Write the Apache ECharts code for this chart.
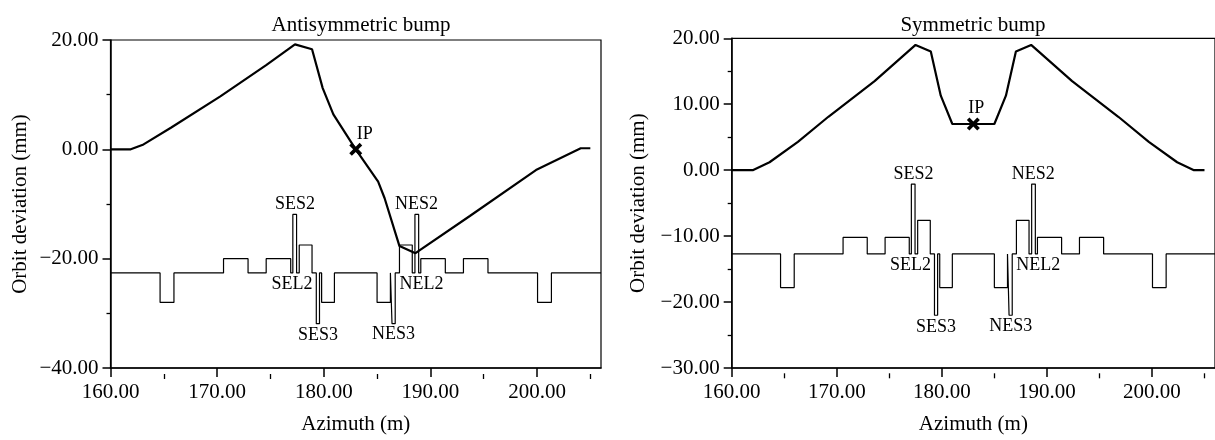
<!DOCTYPE html>
<html>
<head>
<meta charset="utf-8">
<script src="https://cdn.jsdelivr.net/npm/echarts@6/dist/echarts.min.js"></script>
<style>
  html, body { margin: 0; padding: 0; background: #fff; }
  #chart { width: 1215px; height: 440px; }
</style>
</head>
<body>
<div id="chart"></div>
<script>
// ---- data -------------------------------------------------------------
const xTicks = [160, 170, 180, 190, 200];
const xMinorTicks = [165, 175, 185, 195, 205];

// Closed orbit through the antisymmetric bump, [azimuth m, deviation mm]
const antiOrbit = [
  [160, 0], [161.9, 0], [163.1, 0.9], [165.7, 4.0], [170.3, 9.7], [174.6, 15.4],
  [177.3, 19.2], [178.9, 18.3], [179.9, 11.2], [180.9, 6.4], [183.0, 0],
  [185.1, -5.9], [185.7, -8.9], [187.1, -17.7], [188.6, -19.0], [193.7, -12.2],
  [199.9, -3.8], [204.1, 0.2], [205, 0.2]
];

// Closed orbit through the symmetric bump
const symOrbit = [
  [160, 0], [162.0, 0], [163.6, 1.2], [166.3, 4.3], [169.2, 8.1], [173.6, 13.5],
  [177.5, 19.0], [178.95, 18.0], [179.9, 11.3], [181.0, 7.0], [183.0, 7.0],
  [185.0, 7.0], [186.1, 11.3], [187.05, 18.0], [188.5, 19.0], [192.4, 13.5],
  [196.8, 8.1], [199.7, 4.3], [202.4, 1.2], [204.0, 0], [205, 0]
];

// Magnet lattice outline drawn under each orbit
const antiLattice = [
  [160, -22.6], [164.65, -22.6], [164.65, -28], [165.95, -28], [165.95, -22.6],
  [170.6, -22.6], [170.6, -20], [172.9, -20], [172.9, -22.6],
  [174.6, -22.6], [174.6, -20], [176.9, -20], [176.9, -22.6],
  [177.1, -22.6], [177.1, -11.9], [177.45, -11.9], [177.45, -22.6],
  [177.7, -22.6], [177.7, -17.5], [178.9, -17.5], [178.9, -22.6],
  [179.3, -22.6], [179.3, -31.9], [179.6, -31.9], [179.6, -22.6],
  [179.8, -22.6], [179.8, -28], [181.0, -28], [181.0, -22.6],
  [185.0, -22.6], [185.0, -28], [186.25, -28], [186.25, -22.6],
  [186.4, -22.6], [186.4, -31.9], [186.7, -31.9], [186.7, -22.6],
  [187.1, -22.6], [187.1, -17.5], [188.3, -17.5], [188.3, -22.6],
  [188.55, -22.6], [188.55, -11.9], [188.9, -11.9], [188.9, -22.6],
  [189.1, -22.6], [189.1, -20], [191.4, -20], [191.4, -22.6],
  [193.1, -22.6], [193.1, -20], [195.4, -20], [195.4, -22.6],
  [200.05, -22.6], [200.05, -28], [201.35, -28], [201.35, -22.6], [206, -22.6]
];

const symLattice = [
  [160, -12.7], [164.65, -12.7], [164.65, -17.8], [165.95, -17.8], [165.95, -12.7],
  [170.6, -12.7], [170.6, -10.2], [172.9, -10.2], [172.9, -12.7],
  [174.6, -12.7], [174.6, -10.2], [176.9, -10.2], [176.9, -12.7],
  [177.1, -12.7], [177.1, -2.1], [177.45, -2.1], [177.45, -12.7],
  [177.7, -12.7], [177.7, -7.6], [178.9, -7.6], [178.9, -12.7],
  [179.3, -12.7], [179.3, -22.0], [179.6, -22.0], [179.6, -12.7],
  [179.8, -12.7], [179.8, -17.8], [181.0, -17.8], [181.0, -12.7],
  [185.0, -12.7], [185.0, -17.8], [186.25, -17.8], [186.25, -12.7],
  [186.4, -12.7], [186.4, -22.0], [186.7, -22.0], [186.7, -12.7],
  [187.1, -12.7], [187.1, -7.6], [188.3, -7.6], [188.3, -12.7],
  [188.55, -12.7], [188.55, -2.1], [188.9, -2.1], [188.9, -12.7],
  [189.1, -12.7], [189.1, -10.2], [191.4, -10.2], [191.4, -12.7],
  [193.1, -12.7], [193.1, -10.2], [195.4, -10.2], [195.4, -12.7],
  [200.05, -12.7], [200.05, -17.8], [201.35, -17.8], [201.35, -12.7], [206, -12.7]
];

// Named lattice elements: azimuth and the lattice value the name sits against
const elementNames = ['SES2', 'SEL2', 'SES3', 'NES3', 'NES2', 'NEL2'];
const elementAzimuth = [177.3, 177.3, 179.45, 186.55, 188.7, 188.7];
const antiElementTips = [-11.9, -22.6, -31.9, -31.9, -11.9, -22.6];
const symElementTips = [-2.1, -12.7, -22.0, -22.0, -2.1, -12.7];

// Interaction point
const antiIP = [183.0, 0];
const symIP = [183.0, 7.0];

// ---- drawing ----------------------------------------------------------
const FONT = 'Liberation Serif';
const BLACK = '#000';
const fmt = v => v.toFixed(2).replace('-', '\u2212');
const textBase = { color: BLACK, fontFamily: FONT };

const labelPlacement = {
  SES2: { position: 'top', distance: 1 },
  SEL2: { position: 'bottom', distance: 2, offset: [-3, 0] },
  SES3: { position: 'bottom', distance: 3 },
  NES3: { position: 'bottom', distance: 2 },
  NES2: { position: 'top', distance: 1 },
  NEL2: { position: 'bottom', distance: 2, offset: [5, 0] }
};

const crossPath = 'path://M0,2 L2,0 L5,3 L8,0 L10,2 L7,5 L10,8 L8,10 L5,7 L2,10 L0,8 L3,5 Z';

// Main azimuth axis plus a label-less companion carrying the half-step ticks;
// the companion sits on top and is shifted down onto the bottom edge.
function xAxesFor(gridIndex, plotHeight) {
  return [
    {
      gridIndex, type: 'value', min: 160, max: 206, position: 'bottom',
      axisLine: { onZero: false, lineStyle: { color: BLACK, width: 1.5 } },
      axisTick: { customValues: xTicks, length: 9, lineStyle: { color: BLACK, width: 1.5 } },
      axisLabel: { customValues: xTicks, formatter: fmt, fontSize: 21, margin: 14, ...textBase },
      splitLine: { show: false },
      name: 'Azimuth (m)', nameLocation: 'middle', nameGap: 46,
      nameTextStyle: { fontSize: 21, ...textBase }
    },
    {
      gridIndex, type: 'value', min: 160, max: 206, position: 'top', offset: -plotHeight,
      axisLine: { show: false, onZero: false },
      axisTick: { customValues: xMinorTicks, inside: true, length: 5, lineStyle: { color: BLACK, width: 1.3 } },
      axisLabel: { show: false },
      splitLine: { show: false }
    }
  ];
}

function yAxisFor(gridIndex, min, max, interval, nameGap) {
  return {
    gridIndex, type: 'value', min, max, interval,
    axisLine: { onZero: false, lineStyle: { color: BLACK, width: 1.5 } },
    axisTick: { length: 8, lineStyle: { color: BLACK, width: 1.5 } },
    minorTick: { show: true, splitNumber: 2, length: 4, lineStyle: { color: BLACK, width: 1.3 } },
    axisLabel: { formatter: fmt, fontSize: 21, margin: 12, ...textBase },
    splitLine: { show: false },
    name: 'Orbit deviation (mm)', nameLocation: 'middle', nameGap,
    nameTextStyle: { fontSize: 21, ...textBase }
  };
}

function seriesFor(xIdx, yIdx, orbit, lattice, tips, ip, ipOffset) {
  return [
    {
      type: 'line', xAxisIndex: xIdx, yAxisIndex: yIdx, data: lattice,
      showSymbol: false, lineStyle: { color: BLACK, width: 1.2 }, silent: true
    },
    {
      type: 'line', xAxisIndex: xIdx, yAxisIndex: yIdx, data: orbit,
      showSymbol: false, lineStyle: { color: BLACK, width: 2.2 }, silent: true
    },
    {
      type: 'scatter', xAxisIndex: xIdx, yAxisIndex: yIdx, symbolSize: 0,
      itemStyle: { opacity: 1, color: BLACK },
      data: elementNames.map((n, i) => ({
        name: n, value: [elementAzimuth[i], tips[i]],
        label: Object.assign({ show: true, formatter: '{b}', fontSize: 18, ...textBase }, labelPlacement[n])
      })),
      silent: true
    },
    {
      type: 'scatter', xAxisIndex: xIdx, yAxisIndex: yIdx,
      symbol: crossPath, symbolSize: 13, itemStyle: { color: BLACK, opacity: 1 },
      data: [{ name: 'IP', value: ip }],
      label: { show: true, formatter: '{b}', position: 'top', distance: 0, offset: ipOffset, fontSize: 18, ...textBase },
      silent: true
    }
  ];
}

const chart = echarts.init(document.getElementById('chart'));
chart.setOption({
  animation: false,
  backgroundColor: '#fff',
  title: [
    { text: 'Antisymmetric bump', left: 356, top: 10, textAlign: 'center',
      textStyle: { fontSize: 21, fontWeight: 'normal', ...textBase } },
    { text: 'Symmetric bump', left: 968, top: 10, textAlign: 'center',
      textStyle: { fontSize: 21, fontWeight: 'normal', ...textBase } }
  ],
  grid: [
    { left: 110.5, top: 40, width: 490.5, height: 334, show: true, borderColor: BLACK, borderWidth: 1.2 },
    { left: 731.7, top: 38.3, width: 489.4, height: 335, show: true, borderColor: BLACK, borderWidth: 1.2 }
  ],
  xAxis: [...xAxesFor(0, 334), ...xAxesFor(1, 335)],
  yAxis: [yAxisFor(0, -40, 20, 20, 80), yAxisFor(1, -30, 20, 10, 83)],
  series: [
    ...seriesFor(0, 0, antiOrbit, antiLattice, antiElementTips, antiIP, [9, 0]),
    ...seriesFor(2, 1, symOrbit, symLattice, symElementTips, symIP, [3, 0])
  ]
});
</script>
</body>
</html>
